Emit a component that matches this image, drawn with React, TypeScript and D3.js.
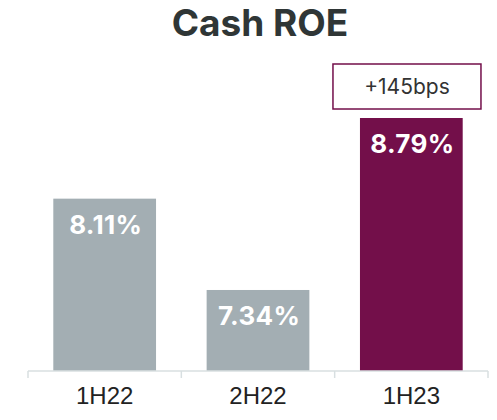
import React from "react";
import * as d3 from "d3";

const categories = ["1H22", "2H22", "1H23"];
const values = [8.11, 7.34, 8.79];
const valueLabels = ["8.11%", "7.34%", "8.79%"];
const highlight = [false, false, true];
const title = "Cash ROE";
const annotation = "+145bps";

const W = 497;
const H = 420;

export default function App() {
  const x = d3
    .scaleBand<string>()
    .domain(categories)
    .range([28, 488])
    .paddingInner(0.33)
    .paddingOuter(0.165);
  const step = x.step();
  const y = d3.scaleLinear().domain([6.657, 8.79]).range([371, 118]);
  const axisY = y(6.657);
  const ticks = [28, ...categories.map((_, i) => 28 + step * (i + 1))];
  const lastX = x(categories[2])!;
  const bw = x.bandwidth();

  return (
    <svg
      width={W}
      height={H}
      style={{ position: "absolute", left: 0, top: 0 }}
      fontFamily="Inter, 'Noto Sans', sans-serif"
    >
      <rect width={W} height={H} fill="#ffffff" />
      <text
        x={260}
        y={36}
        textAnchor="middle"
        fontSize={37}
        fontWeight={700}
        fill="#2f3636"
      >
        {title}
      </text>
      {categories.map((c, i) => (
        <g key={c}>
          <rect
            x={x(c)}
            y={y(values[i])}
            width={bw}
            height={axisY - y(values[i])}
            fill={highlight[i] ? "#730f4a" : "#a3aeb3"}
          />
          <text
            x={x(c)! + bw / 2 + 1}
            y={y(values[i]) + 35}
            textAnchor="middle"
            fontSize={26}
            fontWeight={700}
            letterSpacing={0.3}
            fill="#ffffff"
          >
            {valueLabels[i]}
          </text>
          <text
            x={x(c)! + bw / 2}
            y={404}
            textAnchor="middle"
            fontSize={24}
            fontFamily="'Liberation Sans', Arial, sans-serif"
            fill="#222222"
          >
            {c}
          </text>
        </g>
      ))}
      <line x1={28} x2={488} y1={axisY} y2={axisY} stroke="#d8dfe1" strokeWidth={1.5} />
      {ticks.map((t, i) => (
        <line key={i} x1={t} x2={t} y1={axisY} y2={axisY + 7} stroke="#d8dfe1" strokeWidth={1.5} />
      ))}
      <rect
        x={lastX - 27}
        y={64}
        width={148}
        height={45}
        fill="#ffffff"
        stroke="#730f4a"
        strokeWidth={1.5}
      />
      <text
        x={lastX - 27 + 74}
        y={94}
        textAnchor="middle"
        fontSize={21}
        fill="#333333"
      >
        {annotation}
      </text>
    </svg>
  );
}
